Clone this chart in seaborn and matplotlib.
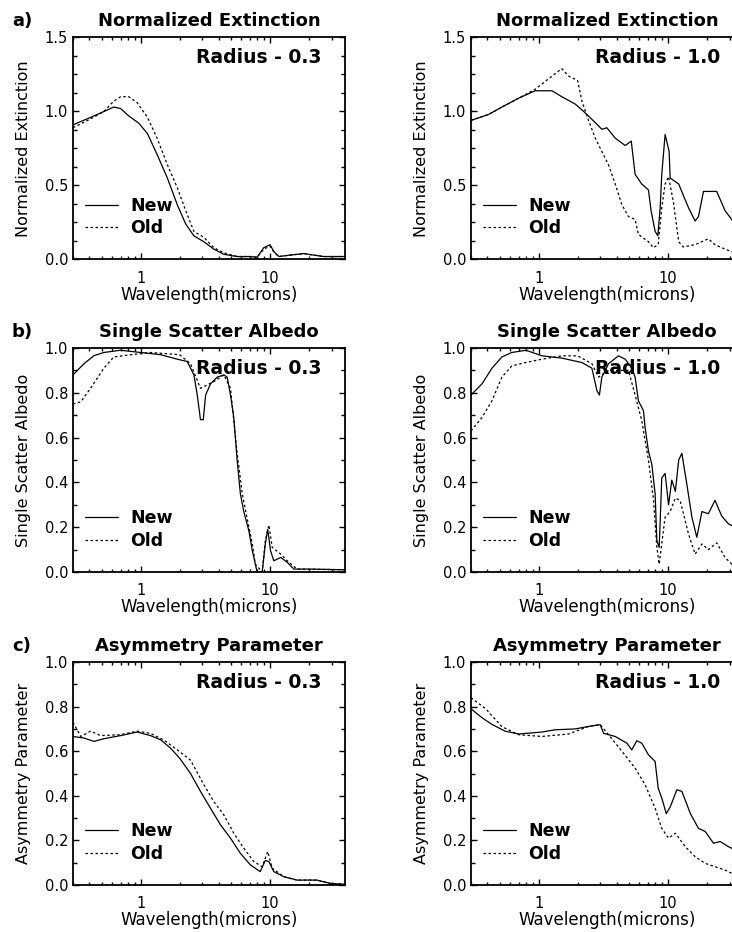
import matplotlib
matplotlib.use("Agg")
import matplotlib.pyplot as plt
from matplotlib.ticker import FixedLocator, NullFormatter, MultipleLocator
import seaborn as sns

# ---- values (wavelength in microns) ----
# a) Normalized Extinction, radius 0.3
ext03_new_wl = [0.3, 0.41, 0.52, 0.62, 0.70, 0.81, 0.97, 1.13, 1.34, 1.61, 1.92, 2.23, 2.58, 3.08,
                3.68, 4.40, 5.57, 7.06, 7.95, 8.95, 10.0, 10.7, 11.7, 14.4, 18.3, 21.7, 26.0, 38.0]
ext03_new = [0.91, 0.96, 1.00, 1.03, 1.02, 0.97, 0.92, 0.85, 0.71, 0.55, 0.37, 0.24, 0.16, 0.12,
             0.07, 0.035, 0.02, 0.02, 0.015, 0.08, 0.10, 0.055, 0.02, 0.03, 0.04, 0.03, 0.02, 0.02]
ext03_old_wl = [0.3, 0.41, 0.52, 0.62, 0.70, 0.81, 0.94, 1.13, 1.34, 1.61, 1.92, 2.23, 2.58, 3.08,
                3.68, 4.40, 5.57, 7.06, 7.95, 8.95, 10.0, 10.7, 11.7, 14.4, 18.3, 21.7, 26.0, 38.0]
ext03_old = [0.89, 0.95, 1.00, 1.07, 1.10, 1.10, 1.06, 0.96, 0.82, 0.64, 0.485, 0.33, 0.19, 0.15,
             0.08, 0.045, 0.02, 0.02, 0.015, 0.07, 0.09, 0.05, 0.02, 0.03, 0.04, 0.03, 0.02, 0.02]

# a) Normalized Extinction, radius 1.0
ext10_new_wl = [0.3, 0.41, 0.52, 0.70, 0.94, 1.27, 1.51, 1.92, 2.23, 2.74, 3.08, 3.37, 3.91, 4.67,
                5.2, 5.57, 6.27, 7.06, 7.4, 7.95, 8.34, 8.7, 8.95, 9.5, 10.2, 10.4, 12.1, 14.4,
                16.2, 17.2, 18.8, 21.7, 23.8, 27.6, 33.0, 38.0]
ext10_new = [0.94, 0.98, 1.03, 1.09, 1.14, 1.14, 1.10, 1.05, 1.00, 0.925, 0.88, 0.89, 0.82, 0.77,
             0.80, 0.575, 0.51, 0.47, 0.33, 0.19, 0.16, 0.35, 0.575, 0.845, 0.73, 0.55, 0.51, 0.35,
             0.26, 0.29, 0.46, 0.46, 0.46, 0.33, 0.24, 0.20]
ext10_old_wl = [0.3, 0.41, 0.52, 0.70, 0.94, 1.19, 1.51, 1.70, 2.0, 2.16, 2.43, 2.74, 3.08, 3.47,
                3.91, 4.40, 4.95, 5.57, 5.9, 7.06, 7.7, 8.4, 8.95, 9.5, 10.1, 11.0, 12.1, 13.1,
                16.2, 20.5, 23.1, 27.6, 33.0, 38.0]
ext10_old = [0.94, 0.98, 1.03, 1.09, 1.15, 1.22, 1.29, 1.24, 1.21, 1.07, 0.94, 0.82, 0.73, 0.64,
             0.51, 0.37, 0.29, 0.27, 0.17, 0.12, 0.08, 0.10, 0.35, 0.51, 0.56, 0.39, 0.12, 0.085,
             0.10, 0.14, 0.10, 0.07, 0.045, 0.03]

# b) Single Scatter Albedo, radius 0.3
ssa03_new_wl = [0.3, 0.365, 0.436, 0.52, 0.70, 1.0, 1.43, 1.92, 2.29, 2.58, 2.74, 2.9, 3.05, 3.18,
                3.47, 3.91, 4.4, 4.67, 4.95, 5.25, 5.57, 5.9, 6.27, 6.86, 7.3, 7.95, 8.7, 9.2, 9.6,
                10.1, 10.7, 12.1, 13.6, 15.3, 20.5, 38.0]
ssa03_new = [0.88, 0.93, 0.966, 0.98, 0.99, 0.98, 0.97, 0.95, 0.94, 0.88, 0.79, 0.68, 0.68, 0.79,
             0.84, 0.87, 0.88, 0.87, 0.79, 0.69, 0.50, 0.35, 0.27, 0.185, 0.095, 0.0, 0.0, 0.125, 0.19,
             0.095, 0.05, 0.065, 0.043, 0.013, 0.013, 0.01]
ssa03_old_wl = [0.3, 0.345, 0.41, 0.52, 0.62, 0.84, 1.19, 2.0, 2.43, 2.9, 3.68, 4.4, 4.95, 5.57,
                6.1, 6.65, 7.3, 7.7, 8.7, 9.2, 9.8, 10.4, 12.1, 13.6, 16.2, 38.0]
ssa03_old = [0.75, 0.76, 0.82, 0.91, 0.96, 0.97, 0.98, 0.97, 0.93, 0.82, 0.85, 0.88, 0.82, 0.53,
             0.35, 0.24, 0.125, 0.035, 0.0, 0.14, 0.21, 0.11, 0.08, 0.05, 0.013, 0.01]

# b) Single Scatter Albedo, radius 1.0
ssa10_new_wl = [0.3, 0.365, 0.436, 0.52, 0.62, 0.80, 1.06, 1.51, 2.16, 2.58, 2.82, 2.95, 3.08, 3.47,
                4.14, 4.67, 5.25, 5.57, 5.9, 6.46, 6.65, 7.06, 7.5, 7.95, 8.2, 8.55, 8.95, 9.5,
                10.1, 10.7, 11.4, 12.1, 12.8, 14.0, 15.3, 16.7, 18.3, 20.5, 23.1, 26.0, 29.3,
                33.0, 38.0]
ssa10_new = [0.79, 0.84, 0.91, 0.96, 0.98, 0.99, 0.965, 0.955, 0.935, 0.91, 0.81, 0.79, 0.87, 0.93,
             0.965, 0.95, 0.91, 0.87, 0.765, 0.72, 0.645, 0.54, 0.48, 0.35, 0.14, 0.11, 0.42, 0.44,
             0.30, 0.41, 0.36, 0.50, 0.53, 0.39, 0.245, 0.155, 0.27, 0.26, 0.32, 0.25, 0.215,
             0.20, 0.19]
ssa10_old_wl = [0.3, 0.365, 0.436, 0.52, 0.62, 0.79, 1.06, 1.51, 2.0, 2.58, 2.9, 3.47, 4.95, 5.57,
                6.27, 7.06, 7.7, 8.2, 8.55, 9.5, 10.4, 11.4, 12.4, 14.4, 16.2, 18.3, 20.5, 23.8,
                27.6, 33.0, 38.0]
ssa10_old = [0.63, 0.69, 0.765, 0.87, 0.92, 0.935, 0.95, 0.965, 0.965, 0.93, 0.87, 0.90, 0.90, 0.79,
             0.675, 0.50, 0.33, 0.11, 0.035, 0.245, 0.27, 0.33, 0.32, 0.17, 0.08, 0.125, 0.10, 0.13,
             0.065, 0.02, 0.01]

# c) Asymmetry Parameter, radius 0.3
asy03_new_wl = [0.3, 0.365, 0.436, 0.52, 0.70, 0.94, 1.19, 1.43, 1.70, 2.0, 2.43, 2.9, 3.47, 4.14,
                4.95, 5.9, 7.06, 8.4, 9.2, 9.8, 10.7, 12.8, 16.2, 23.1, 29.3, 38.0]
asy03_new = [0.666, 0.659, 0.644, 0.656, 0.67, 0.686, 0.67, 0.651, 0.614, 0.569, 0.50, 0.42, 0.344,
             0.27, 0.21, 0.142, 0.09, 0.06, 0.11, 0.105, 0.06, 0.037, 0.022, 0.022, 0.007, 0.003]
asy03_old_wl = [0.3, 0.345, 0.41, 0.49, 0.70, 0.94, 1.19, 1.51, 1.92, 2.43, 3.08, 3.68, 4.4, 5.25,
                6.27, 7.5, 8.7, 9.6, 10.4, 12.8, 16.2, 23.1, 29.3, 38.0]
asy03_old = [0.73, 0.666, 0.69, 0.67, 0.674, 0.69, 0.68, 0.65, 0.606, 0.56, 0.45, 0.374, 0.314,
             0.232, 0.165, 0.105, 0.082, 0.15, 0.075, 0.037, 0.022, 0.022, 0.007, 0.003]

# c) Asymmetry Parameter, radius 1.0
asy10_new_wl = [0.3, 0.365, 0.436, 0.55, 0.70, 1.06, 1.34, 1.92, 2.43, 2.99, 3.18, 3.91, 4.81, 5.25,
                5.74, 6.27, 7.06, 7.95, 8.4, 8.95, 9.7, 10.4, 11.7, 12.8, 14.9, 17.2, 19.4, 22.5,
                25.3, 29.3, 33.0, 38.0]
asy10_new = [0.79, 0.75, 0.72, 0.69, 0.677, 0.686, 0.696, 0.70, 0.711, 0.719, 0.68, 0.666, 0.636,
             0.606, 0.647, 0.636, 0.584, 0.554, 0.434, 0.39, 0.32, 0.35, 0.427, 0.42, 0.32, 0.254,
             0.24, 0.187, 0.195, 0.172, 0.157, 0.15]
asy10_old_wl = [0.3, 0.39, 0.52, 0.70, 1.06, 1.70, 2.43, 2.99, 3.47, 4.4, 5.57, 6.65, 7.95, 8.95,
                10.1, 11.4, 13.6, 16.2, 19.4, 23.1, 27.6, 33.0, 38.0]
asy10_old = [0.84, 0.79, 0.71, 0.674, 0.666, 0.677, 0.711, 0.719, 0.674, 0.60, 0.524, 0.45, 0.344,
             0.254, 0.21, 0.232, 0.172, 0.127, 0.097, 0.082, 0.067, 0.045, 0.035]

titles = ["Normalized Extinction", "Single Scatter Albedo", "Asymmetry Parameter"]
ylabels = ["Normalized Extinction", "Single Scatter Albedo", "Asymmetry Parameter"]
panel_tags = ["a)", "b)", "c)"]
radius_labels = ["Radius - 0.3", "Radius - 1.0"]
legend_labels = ["New", "Old"]
x_major = [1, 10]
x_major_labels = ["1", "10"]
x_minor = [0.3, 0.4, 0.5, 0.6, 0.7, 0.8, 0.9, 2, 3, 4, 5, 6, 7, 8, 9, 20, 30]

series = [
    [(ext03_new_wl, ext03_new, ext03_old_wl, ext03_old),
     (ext10_new_wl, ext10_new, ext10_old_wl, ext10_old)],
    [(ssa03_new_wl, ssa03_new, ssa03_old_wl, ssa03_old),
     (ssa10_new_wl, ssa10_new, ssa10_old_wl, ssa10_old)],
    [(asy03_new_wl, asy03_new, asy03_old_wl, asy03_old),
     (asy10_new_wl, asy10_new, asy10_old_wl, asy10_old)],
]
y_ranges = [(0, 1.5, 0.5, 0.125), (0, 1.0, 0.2, 0.1), (0, 1.0, 0.2, 0.1)]

sns.set_style("ticks")
plt.rcParams["font.family"] = ["DejaVu Sans"]
plt.rcParams.update({
    "axes.linewidth": 1.3,
    "text.color": "black",
    "axes.labelcolor": "black",
    "xtick.color": "black",
    "ytick.color": "black",
    "axes.edgecolor": "black",
})

W, H = 732, 932
fig = plt.figure(figsize=(W / 100, H / 100), dpi=100)

col_left = [73, 471]
ax_w = 272
row_tb = [(37.5, 259.5), (348, 572), (662, 885)]

for r in range(3):
    top, bot = row_tb[r]
    ymin, ymax, ymaj, ymin_step = y_ranges[r]
    for c in range(2):
        ax = fig.add_axes([col_left[c] / W, 1 - bot / H, ax_w / W, (bot - top) / H])
        nwl, nv, owl, ov = series[r][c]
        sns.lineplot(x=nwl, y=nv, ax=ax, color="black", lw=0.9, label=legend_labels[0],
                     estimator=None, sort=False)
        sns.lineplot(x=owl, y=ov, ax=ax, color="black", lw=0.9, linestyle=(0, (2, 2)),
                     label=legend_labels[1], estimator=None, sort=False)

        ax.set_xscale("log")
        ax.set_xlim(0.3, 38)
        ax.set_ylim(ymin, ymax)
        ax.xaxis.set_major_locator(FixedLocator(x_major))
        ax.set_xticklabels(x_major_labels)
        ax.xaxis.set_minor_locator(FixedLocator(x_minor))
        ax.xaxis.set_minor_formatter(NullFormatter())
        ax.yaxis.set_major_locator(MultipleLocator(ymaj))
        ax.yaxis.set_minor_locator(MultipleLocator(ymin_step))
        ax.yaxis.set_major_formatter(plt.FormatStrFormatter("%.1f"))

        ax.tick_params(which="both", direction="in", top=True, right=True,
                       width=1.0, color="black")
        ax.tick_params(axis="x", which="major", length=4.5, pad=8, labelsize=10.5)
        ax.tick_params(axis="x", which="minor", length=2.5)
        ax.tick_params(axis="y", which="major", length=4, pad=3.5, labelsize=10.5)
        ax.tick_params(axis="y", which="minor", length=3)

        ax.set_title(titles[r], fontsize=13, fontweight="bold", pad=8)
        ax.set_xlabel("Wavelength(microns)", fontsize=12, labelpad=0)
        ax.set_ylabel(ylabels[r], fontsize=11.5, labelpad=10)

        ax.text(0.915, 0.91, radius_labels[c], transform=ax.transAxes, ha="right",
                va="center", fontsize=13.5, fontweight="bold")
        ax.legend(loc="lower left", bbox_to_anchor=(0.044, 0.10), frameon=False,
                  borderpad=0, borderaxespad=0, handlelength=1.9, handletextpad=0.7,
                  labelspacing=0.25, prop={"weight": "bold", "size": 12.5})

        if c == 0:
            ax.annotate(panel_tags[r], xy=(0, 1), xycoords="axes fraction",
                        xytext=(-44, 8), textcoords="offset points", ha="left",
                        va="baseline", fontsize=13, fontweight="bold")

fig.savefig("out.png", dpi=100)
